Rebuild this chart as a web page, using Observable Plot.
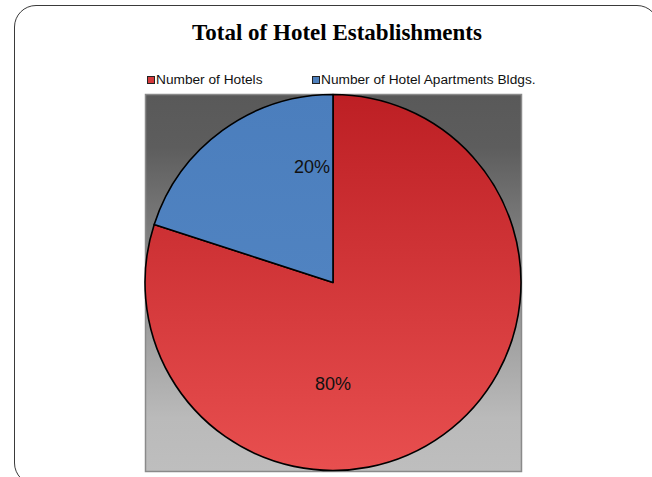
<!DOCTYPE html>
<html>
<head>
<meta charset="utf-8">
<script src="https://cdn.jsdelivr.net/npm/d3@7"></script>
<script src="https://cdn.jsdelivr.net/npm/@observablehq/plot@0.6"></script>
<style>
  html, body { margin: 0; padding: 0; background: #fff; width: 652px; height: 477px; overflow: hidden; position: relative; }
  #border { position: absolute; left: 14px; top: 5px; width: 645px; height: 480px; border: 1.5px solid #3a3a3a; border-radius: 22px; box-sizing: border-box; }
  #title { position: absolute; left: 14px; width: 646px; top: 20px; text-align: center; font: bold 23px "Liberation Serif", "Times New Roman", serif; color: #000; }
  .leg { position: absolute; top: 72px; font: 13.7px "Liberation Sans", Arial, sans-serif; color: #111; white-space: nowrap; display: flex; align-items: center; }
  .sw { width: 6px; height: 6px; border: 1px solid #222; margin-right: 1px; display: inline-block; }
  #chart { position: absolute; left: 0; top: 90px; }
</style>
</head>
<body>
<div id="border"></div>
<div id="title">Total of Hotel Establishments</div>
<div id="legend"></div>
<div id="chart"></div>
<script>
// ---- data ----
const categories = ["Number of Hotels", "Number of Hotel Apartments Bldgs."];
const shares = [80, 20];
const labels = ["80%", "20%"];

// ---- styles ----
const sliceFills = ["url(#redGrad)", "url(#blueGrad)"];
const swatchColors = ["#d63a3c", "#4f81bd"];
const legendLeft = [147, 312];

const data = categories.map((c, i) => ({category: c, value: shares[i], label: labels[i]}));

// legend
const legend = document.getElementById("legend");
categories.forEach((c, i) => {
  const item = document.createElement("div");
  item.className = "leg";
  item.style.left = legendLeft[i] + "px";
  const sw = document.createElement("span");
  sw.className = "sw";
  sw.style.background = swatchColors[i];
  item.appendChild(sw);
  item.appendChild(document.createTextNode(c));
  legend.appendChild(item);
});

function background(index, scales, values, dim) {
  const g = d3.create("svg:g");
  const defs = g.append("defs");
  const bg = defs.append("linearGradient").attr("id", "bgGrad").attr("x1", 0).attr("y1", 0).attr("x2", 0).attr("y2", 1);
  bg.append("stop").attr("offset", "0%").attr("stop-color", "#595959");
  bg.append("stop").attr("offset", "14%").attr("stop-color", "#5d5d5d");
  bg.append("stop").attr("offset", "50%").attr("stop-color", "#8f8f8f");
  bg.append("stop").attr("offset", "86%").attr("stop-color", "#bababa");
  bg.append("stop").attr("offset", "100%").attr("stop-color", "#bebebe");
  const rg = defs.append("linearGradient").attr("id", "redGrad").attr("x1", 0).attr("y1", 0).attr("x2", 0).attr("y2", 1);
  rg.append("stop").attr("offset", "0%").attr("stop-color", "#bd1f24");
  rg.append("stop").attr("offset", "100%").attr("stop-color", "#e84f4f");
  const bgr = defs.append("linearGradient").attr("id", "blueGrad").attr("x1", 0).attr("y1", 0).attr("x2", 0).attr("y2", 1);
  bgr.append("stop").attr("offset", "0%").attr("stop-color", "#4b7ebd");
  bgr.append("stop").attr("offset", "100%").attr("stop-color", "#5083c1");
  g.append("rect")
    .attr("x", dim.marginLeft).attr("y", dim.marginTop)
    .attr("width", dim.width - dim.marginLeft - dim.marginRight)
    .attr("height", dim.height - dim.marginTop - dim.marginBottom)
    .attr("fill", "url(#bgGrad)");
  return g.node();
}

function pie(index, scales, values, dim) {
  const cx = scales.x(0), cy = scales.y(0);
  const R = scales.x(1) - scales.x(0);
  const arcs = d3.pie().sort(null).value(d => d.value)(data);
  const arc = d3.arc().innerRadius(0).outerRadius(R);
  const g = d3.create("svg:g").attr("transform", `translate(${cx},${cy})`);
  g.selectAll("path").data(arcs).join("path")
    .attr("d", arc)
    .attr("fill", (d, i) => sliceFills[i])
    .attr("stroke", "#000")
    .attr("stroke-width", 1.6)
    .attr("stroke-linejoin", "round");
  g.selectAll("text").data(arcs).join("text")
    .attr("x", d => d.data.value < 50 ? -3 : 0)
    .attr("y", d => d.data.value < 50 ? -0.615 * R : 0.54 * R)
    .attr("dy", "0.35em")
    .attr("text-anchor", d => d.data.value < 50 ? "end" : "middle")
    .attr("font-family", "Liberation Sans, Arial, sans-serif")
    .attr("font-size", 18)
    .attr("fill", "#111")
    .text(d => d.data.label);
  return g.node();
}

const chart = Plot.plot({
  width: 652,
  height: 387,
  marginLeft: 145,
  marginRight: 131,
  marginTop: 4,
  marginBottom: 6,
  x: {domain: [-1, 1], axis: null},
  y: {domain: [-1, 1], axis: null},
  style: {background: "transparent", overflow: "visible"},
  marks: [
    background,
    Plot.frame({stroke: "#8a8a8a", strokeWidth: 1.5}),
    pie
  ]
});
document.getElementById("chart").appendChild(chart);
</script>
</body>
</html>
